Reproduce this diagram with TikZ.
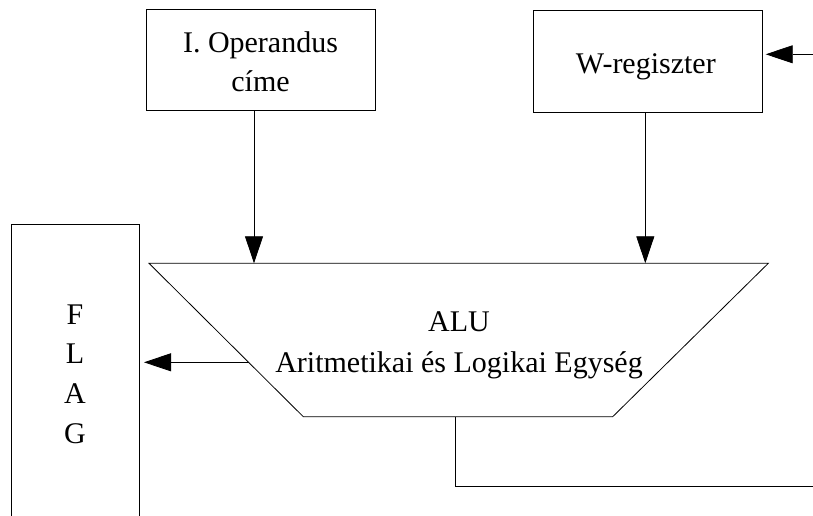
\documentclass[tikz,border=0pt]{standalone}
\usepackage{fontspec}
\setmainfont{Liberation Serif}
\usetikzlibrary{arrows.meta,calc}

\begin{document}
\begin{tikzpicture}[x=1pt,y=-1pt,
  line width=0.8pt,
  txt/.style={font=\fontsize{30}{36}\selectfont, inner sep=0pt, anchor=base},
  blockbox/.style={draw, rectangle, inner sep=0pt},
  flow/.style={-{Triangle[length=27pt,width=18pt]}}]

\useasboundingbox (0,0) rectangle (813,516);

% input boxes
\node[blockbox, minimum width=229pt, minimum height=101.7pt] (opaddr)
  at (261.2,59.9) {};
\node[txt] (opaddrA) at (260.5,52.3) {I. Operandus};
\node[txt] (opaddrB) at (260.5,91.7) {címe};

\node[blockbox, minimum width=229pt, minimum height=102pt] (wreg)
  at (647.8,61) {};
\node[txt] (wregtxt) at (645.8,74) {W-regiszter};

% ALU trapezium corners
\coordinate (tl) at (149,263.3);
\coordinate (tr) at (768.3,263.3);
\coordinate (br) at (612.7,416.7);
\coordinate (bl) at (303.3,416.7);
\draw (tl) -- (tr) -- (br) -- (bl) -- cycle;
\node[txt] (aluA) at (459,331.7) {ALU};
\node[txt] (aluB) at (459,372.7) {Aritmetikai és Logikai Egység};

% flag register (runs off the lower edge)
\coordinate (fl) at (11.7,224.7);
\coordinate (fr) at (139.3,224.7);
\draw (11.7,516) -- (fl) -- (fr) -- (139.3,516);
\node[txt] (fF) at (75,324.3) {F};
\node[txt] (fL) at (75,363.3) {L};
\node[txt] (fA) at (75,403.3) {A};
\node[txt] (fG) at (75,443.3) {G};

% connectors
\coordinate (in1) at (254,263.3);
\coordinate (in2) at (645.3,263.3);
\draw[flow] (opaddr.south -| in1) -- (in1);
\draw[flow] (wreg.south -| in2) -- (in2);

\coordinate (wsrc) at (813,54.3);
\coordinate (wtip) at (765.7,54.3);
\draw[flow] (wsrc) -- (wtip);

\coordinate (flagout) at ($(tl)!0.6454!(bl)$);
\coordinate (flagtip) at (144,0 |- flagout);
\draw[flow] (flagout) -- (flagtip);

\coordinate (res) at (455.7,416.7);
\coordinate (resbend) at (455.7,486);
\coordinate (resend) at (813,486);
\draw (res) -- (resbend) -- (resend);
\end{tikzpicture}
\end{document}
